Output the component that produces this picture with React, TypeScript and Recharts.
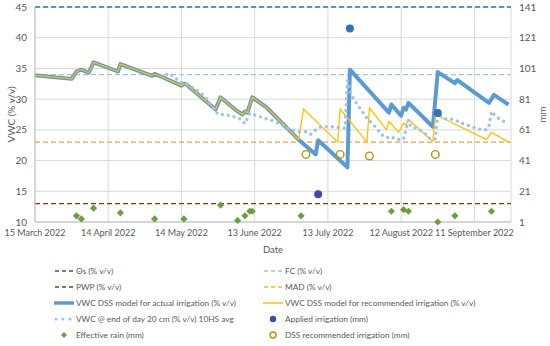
import {
  ComposedChart,
  Line,
  Scatter,
  XAxis,
  YAxis,
  CartesianGrid,
  ReferenceLine,
  Cell,
} from "recharts";

// days counted from 15 March 2022
const tickDays = [0, 30, 60, 90, 120, 150, 180];
const tickLabels = [
  "15 March 2022",
  "14 April 2022",
  "14 May 2022",
  "13 June 2022",
  "13 July 2022",
  "12 August 2022",
  "11 September 2022",
];
const vwcTicks = [10, 15, 20, 25, 30, 35, 40, 45];
const mmTicks = [1, 21, 41, 61, 81, 101, 121, 141];

const thetaS = 45;
const fieldCapacity = 34;
const pwp = 13;
const mad = 23;

const actualDays = [
  0, 15, 17, 19, 22, 24, 34, 35, 48, 49, 52, 60, 61, 62, 74, 76, 82, 85, 86, 87,
  89, 95, 108, 115, 116, 128, 129, 145, 146, 150, 151, 152, 153, 163, 165, 172,
  173, 186, 188, 194,
];
const actualVwc = [
  33.9, 33.3, 34.5, 34.8, 34.3, 36.0, 34.5, 35.7, 33.8, 34.1, 33.6, 32.2, 32.5,
  32.4, 28.3, 30.3, 28.3, 27.5, 28.0, 27.8, 30.3, 28.6, 23.4, 21.0, 23.3, 18.9,
  34.8, 27.8, 29.1, 27.3, 28.6, 28.3, 29.4, 25.5, 34.4, 32.6, 33.1, 29.4, 30.7,
  29.1,
];

const recDays = [
  0, 15, 17, 19, 22, 24, 34, 35, 48, 49, 52, 60, 61, 62, 74, 76, 82, 85, 86, 87,
  89, 95, 108, 110, 124, 125, 136, 137, 144, 145, 149, 151, 152, 153, 163, 164,
  185, 187, 194,
];
const recVwc = [
  33.9, 33.3, 34.5, 34.8, 34.3, 36.0, 34.5, 35.7, 33.8, 34.1, 33.6, 32.2, 32.5,
  32.4, 28.3, 30.3, 28.3, 27.5, 28.0, 27.8, 30.3, 28.6, 23.4, 28.4, 23.0, 28.4,
  23.0, 28.6, 25.0, 26.4, 24.6, 26.1, 25.8, 26.7, 23.1, 27.5, 23.4, 24.6, 23.0,
];

const sensorDays = [
  54, 55, 58, 60, 63, 66, 68, 70, 73, 75, 78, 81, 84, 86, 88, 91, 94, 98, 100,
  102, 105, 108, 111, 113, 115, 117, 122, 126, 127, 128, 129, 130, 132, 134,
  136, 139, 142, 144, 146, 148, 151, 153, 154, 157, 159, 161, 162, 164, 165,
  168, 172, 174, 177, 179, 182, 185, 186, 187, 189, 192,
];
const sensorVwc = [
  34.0, 34.2, 33.3, 32.7, 32.2, 31.5, 31.0, 30.2, 28.6, 27.5, 27.5, 27.2, 26.8,
  26.0, 27.7, 27.3, 26.9, 26.4, 26.0, 25.5, 25.0, 24.7, 24.7, 24.3, 25.0, 25.5,
  25.5, 25.3, 25.3, 33.0, 31.5, 30.4, 29.1, 28.0, 26.9, 25.7, 24.2, 23.7, 23.9,
  23.4, 23.5, 26.6, 25.5, 25.1, 24.7, 23.9, 23.5, 23.5, 27.7, 26.8, 26.7, 26.2,
  25.8, 25.5, 25.1, 25.0, 25.7, 28.0, 27.1, 26.4,
];

const rainDays = [17, 19, 24, 35, 49, 61, 76, 83, 86, 88, 89, 109, 146, 151, 153, 165, 172, 187];
const rainMm = [5, 3, 10, 7, 3, 3, 12, 2, 5, 8, 8, 5, 8, 9, 8, 1, 5, 8];

const appliedDays = [116, 129, 165];
const appliedMm = [19, 127, 72];
const appliedColors = ["#3F48B0", "#2E75B6", "#2E75B6"];

const dssDays = [111, 125, 137, 164];
const dssMm = [45, 45, 44, 45];

const toLine = (days: number[], vals: number[]) =>
  days.map((day, i) => ({ day, v: vals[i] }));
const toPoints = (days: number[], vals: number[]) =>
  days.map((day, i) => ({ day, mm: vals[i] }));

const actualData = toLine(actualDays, actualVwc);
const recData = toLine(recDays, recVwc);
const sensorData = toLine(sensorDays, sensorVwc);
const rainData = toPoints(rainDays, rainMm);
const appliedData = toPoints(appliedDays, appliedMm);
const dssData = toPoints(dssDays, dssMm);

const FONT = "Lato, 'Open Sans', sans-serif";
const TEXT = "#595959";
const GRID = "#D9D9D9";

const Diamond = (p: any) => (
  <polygon
    points={`${p.cx},${p.cy - 3.6} ${p.cx + 3.6},${p.cy} ${p.cx},${p.cy + 3.6} ${p.cx - 3.6},${p.cy}`}
    fill="#6E9F3E"
  />
);
const Dot = (p: any) => <circle cx={p.cx} cy={p.cy} r={4} fill={p.fill} />;
const Ring = (p: any) => (
  <circle cx={p.cx} cy={p.cy} r={3.8} fill="none" stroke="#BF9000" strokeWidth={1.4} />
);

type Item = { label: string; kind: string; color: string };
const leftItems: Item[] = [
  { label: "Θs (% v/v)", kind: "dash", color: "#2F5597" },
  { label: "PWP (% v/v)", kind: "dash", color: "#833C0B" },
  { label: "VWC DSS model for actual irrigation (% v/v)", kind: "thick", color: "#5B9BD5" },
  { label: "VWC @ end of day 20 cm (% v/v) 10HS avg", kind: "dots", color: "#9DC3E6" },
  { label: "Effective rain (mm)", kind: "diamond", color: "#6E9F3E" },
];
const rightItems: Item[] = [
  { label: "FC (% v/v)", kind: "dash", color: "#9DC3E6" },
  { label: "MAD (% v/v)", kind: "dash", color: "#FFC000" },
  { label: "VWC DSS model for recommended irrigation (% v/v)", kind: "thin", color: "#FFC000" },
  { label: "Applied irrigation (mm)", kind: "dot", color: "#3F48B0" },
  { label: "DSS recommended irrigation (mm)", kind: "ring", color: "#BF9000" },
];

const Swatch = ({ kind, color }: { kind: string; color: string }) => (
  <svg width={20} height={10} style={{ display: "block" }}>
    {kind === "dash" && (
      <line x1={1} y1={5} x2={19} y2={5} stroke={color} strokeWidth={1.5} strokeDasharray="4 3" />
    )}
    {kind === "thick" && <line x1={0} y1={5} x2={20} y2={5} stroke={color} strokeWidth={3.5} />}
    {kind === "thin" && <line x1={0} y1={5} x2={20} y2={5} stroke={color} strokeWidth={1.5} />}
    {kind === "dots" && (
      <line
        x1={2}
        y1={5}
        x2={19}
        y2={5}
        stroke={color}
        strokeWidth={3}
        strokeLinecap="round"
        strokeDasharray="0 7"
      />
    )}
    {kind === "diamond" && <polygon points="10,2 13,5 10,8 7,5" fill={color} />}
    {kind === "dot" && <circle cx={10} cy={5} r={3.2} fill={color} />}
    {kind === "ring" && <circle cx={10} cy={5} r={3} fill="none" stroke={color} strokeWidth={1.4} />}
  </svg>
);

const LegendColumn = ({ items, left }: { items: Item[]; left: number }) => (
  <div style={{ position: "absolute", left, top: 263 }}>
    {items.map((it) => (
      <div key={it.label} style={{ display: "flex", alignItems: "center", height: 16 }}>
        <Swatch kind={it.kind} color={it.color} />
        <span style={{ marginLeft: 2, fontSize: 8.3, color: TEXT, whiteSpace: "nowrap" }}>
          {it.label}
        </span>
      </div>
    ))}
  </div>
);

export default function App() {
  return (
    <div
      style={{
        position: "absolute",
        left: 0,
        top: 0,
        width: 550,
        height: 346,
        background: "#fff",
        fontFamily: FONT,
      }}
    >
      <ComposedChart
        width={550}
        height={262}
        margin={{ top: 7, right: 0, bottom: 0, left: 0 }}
        style={{ fontFamily: FONT }}
      >
        <CartesianGrid stroke={GRID} yAxisId="left" />
        <XAxis
          dataKey="day"
          type="number"
          domain={[0, 195]}
          ticks={tickDays}
          tickFormatter={(d: number) => tickLabels[tickDays.indexOf(d)]}
          tick={{ fontSize: 9, fill: TEXT }}
          tickLine={false}
          axisLine={{ stroke: "#BFBFBF" }}
          height={40}
          interval={0}
          allowDataOverflow
          label={{ value: "Date", position: "insideBottom", offset: 9, fontSize: 9.5, fill: TEXT }}
        />
        <YAxis
          yAxisId="left"
          domain={[10, 45]}
          ticks={vwcTicks}
          width={35}
          tick={{ fontSize: 10, fill: TEXT }}
          tickLine={false}
          axisLine={{ stroke: "#BFBFBF" }}
          label={{
            value: "VWC (% v/v)",
            angle: -90,
            position: "insideLeft",
            offset: 11,
            fontSize: 10,
            fill: TEXT,
            style: { textAnchor: "middle" },
          }}
        />
        <YAxis
          yAxisId="right"
          orientation="right"
          domain={[1, 141]}
          ticks={mmTicks}
          width={39}
          tick={{ fontSize: 10, fill: TEXT }}
          tickLine={false}
          axisLine={false}
          label={{
            value: "mm",
            angle: -90,
            position: "insideRight",
            offset: 8,
            fontSize: 10,
            fill: TEXT,
            style: { textAnchor: "middle" },
          }}
        />
        <ReferenceLine yAxisId="left" y={thetaS} stroke="#2E75B6" strokeWidth={1.3} strokeDasharray="5 3" />
        <ReferenceLine yAxisId="left" y={fieldCapacity} stroke="#9DC3E6" strokeWidth={1.3} strokeDasharray="5 3" />
        <ReferenceLine yAxisId="left" y={pwp} stroke="#833C0B" strokeWidth={1.3} strokeDasharray="5 3" />
        <ReferenceLine yAxisId="left" y={mad} stroke="#F4A234" strokeWidth={1.3} strokeDasharray="5 3" />
        <Line
          yAxisId="left"
          data={actualData}
          dataKey="v"
          stroke="#5B9BD5"
          strokeWidth={4}
          strokeLinejoin="round"
          dot={false}
          activeDot={false}
          isAnimationActive={false}
        />
        <Line
          yAxisId="left"
          data={recData}
          dataKey="v"
          stroke="#FFC000"
          strokeWidth={1.3}
          strokeLinejoin="round"
          dot={false}
          activeDot={false}
          isAnimationActive={false}
        />
        <Line
          yAxisId="left"
          data={sensorData}
          dataKey="v"
          stroke="#9DC3E6"
          strokeWidth={3.4}
          strokeLinecap="round"
          strokeDasharray="0 6"
          dot={false}
          activeDot={false}
          isAnimationActive={false}
        />
        <Scatter yAxisId="right" data={rainData} dataKey="mm" shape={Diamond} isAnimationActive={false} />
        <Scatter yAxisId="right" data={appliedData} dataKey="mm" shape={Dot} isAnimationActive={false}>
          {appliedData.map((_, i) => (
            <Cell key={i} fill={appliedColors[i]} />
          ))}
        </Scatter>
        <Scatter yAxisId="right" data={dssData} dataKey="mm" shape={Ring} isAnimationActive={false} />
      </ComposedChart>
      <LegendColumn items={leftItems} left={54} />
      <LegendColumn items={rightItems} left={263} />
    </div>
  );
}
